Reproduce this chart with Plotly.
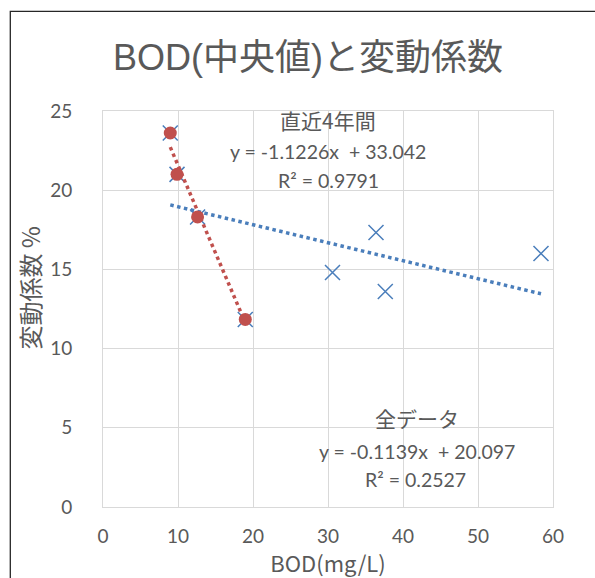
import numpy as np
import plotly.graph_objects as go

# ---- data ----
bod_all = [8.97, 9.87, 12.61, 18.97, 30.6, 36.4, 37.64, 58.4]
cv_all = [23.61, 21.0, 18.31, 11.84, 14.8, 17.33, 13.6, 16.0]
bod_recent = [8.97, 9.87, 12.61, 18.97]
cv_recent = [23.61, 21.0, 18.31, 11.84]

title_text = "BOD(中央値)と変動係数"
x_title = "BOD(mg/L)"
y_title = "変動係数 %"
label_recent = ["直近4年間", "y = -1.1226x\u00a0 + 33.042", "R² = 0.9791"]
label_all = ["全データ", "y = -0.1139x\u00a0 + 20.097", "R² = 0.2527"]
x_ticks = [0, 10, 20, 30, 40, 50, 60]
y_ticks = [0, 5, 10, 15, 20, 25]

BLUE = "#4A7EBB"
RED = "#C0504D"
GRAY = "#595959"
GRID = "#D9D9D9"
CJK = "Noto Sans CJK JP"
LAT = "Lato, Noto Sans CJK JP"
TITLEF = "Liberation Sans, Noto Sans CJK JP"


def trend(xs, ys):
    a, b = np.polyfit(xs, ys, 1)
    xx = np.array([min(xs), max(xs)])
    return xx, a * xx + b


fig = go.Figure()

tx, ty = trend(bod_all, cv_all)
fig.add_trace(go.Scatter(x=tx, y=ty, mode="lines",
                         line=dict(color=BLUE, width=3.5, dash="dot"),
                         showlegend=False, hoverinfo="skip"))
fig.add_trace(go.Scatter(x=bod_all, y=cv_all, mode="markers",
                         marker=dict(symbol="x-thin", size=15,
                                     line=dict(color=BLUE, width=1.5)),
                         showlegend=False))
rx, ry = trend(bod_recent, cv_recent)
fig.add_trace(go.Scatter(x=rx, y=ry, mode="lines",
                         line=dict(color=RED, width=3.5, dash="dot"),
                         showlegend=False, hoverinfo="skip"))
fig.add_trace(go.Scatter(x=bod_recent, y=cv_recent, mode="markers",
                         marker=dict(symbol="circle", size=13, color=RED,
                                     line=dict(width=0)),
                         showlegend=False))

ann = []
pos_recent = [(30.0, 24.45), (30.0, 22.46), (30.0, 20.62)]
pos_all = [(41.87, 5.61), (41.87, 3.53), (41.7, 1.72)]
for i, (txt, (xx, yy)) in enumerate(zip(label_recent, pos_recent)):
    f = dict(size=21, color=GRAY, family=CJK) if i == 0 else dict(size=19.5, color=GRAY, family=LAT)
    ann.append(dict(x=xx, y=yy, xref="x", yref="y", text=txt, showarrow=False, font=f))
for i, (txt, (xx, yy)) in enumerate(zip(label_all, pos_all)):
    f = dict(size=21, color=GRAY, family=CJK) if i == 0 else dict(size=19.5, color=GRAY, family=LAT)
    ann.append(dict(x=xx, y=yy, xref="x", yref="y", text=txt, showarrow=False, font=f))

# y-axis title (placed as rotated text, offset upward as in the reference)
ann.append(dict(x=(29 - 102.7) / 450, y=(506.9 - 288) / 396.2, xref="paper", yref="paper",
                text=y_title, textangle=-90, showarrow=False,
                xanchor="center", yanchor="middle",
                font=dict(size=24, color=GRAY, family=CJK)))

fig.update_layout(
    width=595, height=578,
    margin=dict(l=103, r=42, t=111, b=71),
    paper_bgcolor="white", plot_bgcolor="white",
    font=dict(family=CJK, color=GRAY),
    title=dict(text=title_text, x=308 / 595, xanchor="center", y=1 - 57 / 578,
               yanchor="middle", yref="container",
               font=dict(size=36, color=GRAY, family=TITLEF)),
    annotations=ann,
    shapes=[dict(type="rect", xref="paper", yref="paper",
                 x0=-0.206, x1=1.3, y0=-0.4, y1=1.2517,
                 line=dict(color="#262626", width=1.3), layer="below")],
    xaxis=dict(range=[0, 60], tickvals=x_ticks, showgrid=True, gridcolor=GRID,
               gridwidth=1, zeroline=False, showline=True, linecolor=GRID,
               mirror=True, ticks="", tickfont=dict(size=19, color=GRAY, family=LAT),
               ticklabelstandoff=12,
               title=dict(text=x_title, font=dict(size=22, color=GRAY, family=CJK), standoff=4)),
    yaxis=dict(range=[0, 25], tickvals=y_ticks, showgrid=True, gridcolor=GRID,
               gridwidth=1, zeroline=False, showline=True, linecolor=GRID,
               mirror=True, ticks="", tickfont=dict(size=19, color=GRAY, family=LAT),
               ticklabelstandoff=26),
)

fig.write_html("out.html")
